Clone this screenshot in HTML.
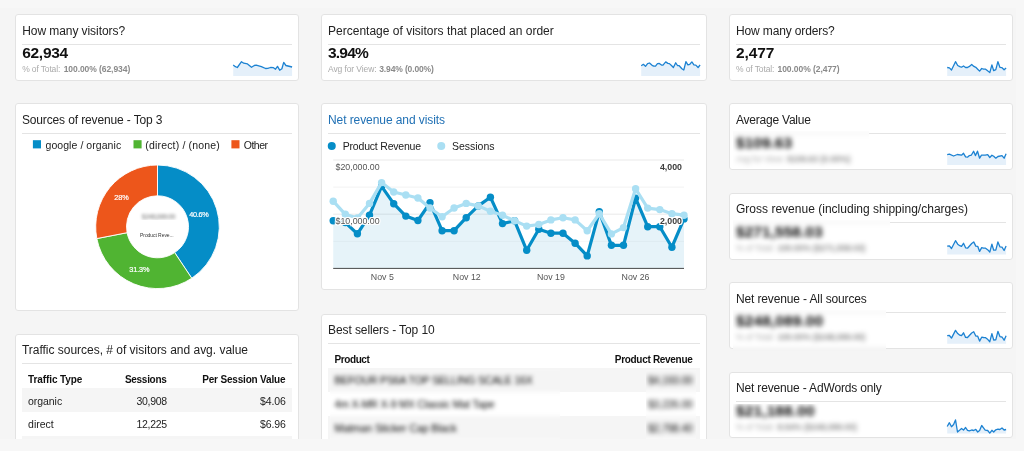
<!DOCTYPE html>
<html lang="en"><head><meta charset="utf-8"><title>Dashboard</title>
<style>
html,body{margin:0;padding:0}
body{width:1024px;height:451px;overflow:hidden;background:#f7f7f7;font-family:"Liberation Sans", Arial, sans-serif;position:relative}
#clip{will-change:transform;position:absolute;left:0;top:0;width:1024px;height:439px;overflow:hidden}
.card{position:absolute;background:#fff;border:1px solid #e3e3e3;border-radius:3px}
.hr{position:absolute;height:1px;background:#e4e4e4}
.band{position:absolute;background:#f5f5f5}
.t{position:absolute;white-space:nowrap;line-height:20px}
.sq{position:absolute;width:8px;height:8px}
svg{position:absolute;left:0;top:0}
.bclip{position:absolute;overflow:hidden}
.binner{position:absolute}
#panel{position:absolute;left:0;top:7.5px;width:1016px;height:431.5px;background:#f5f5f5}
</style></head><body><div id="panel"></div><div id="clip">
<div class="card" style="left:15px;top:14px;width:282px;height:65px"></div>
<div class="card" style="left:15px;top:103px;width:282px;height:206px"></div>
<div class="card" style="left:15px;top:334px;width:282px;height:138px"></div>
<div class="card" style="left:321px;top:14px;width:384px;height:65px"></div>
<div class="card" style="left:321px;top:103px;width:384px;height:185px"></div>
<div class="card" style="left:321px;top:314px;width:384px;height:158px"></div>
<div class="card" style="left:729px;top:14px;width:282px;height:65px"></div>
<div class="card" style="left:729px;top:103px;width:282px;height:65px"></div>
<div class="card" style="left:729px;top:193px;width:282px;height:65px"></div>
<div class="card" style="left:729px;top:282px;width:282px;height:65px"></div>
<div class="card" style="left:729px;top:372px;width:282px;height:64px"></div>
<div class="hr" style="left:22px;top:43.70px;width:270.4px"></div>
<div class="hr" style="left:328px;top:43.70px;width:372px"></div>
<div class="hr" style="left:736px;top:43.70px;width:270px"></div>
<div class="hr" style="left:22px;top:133.00px;width:270.4px"></div>
<div class="hr" style="left:328px;top:132.70px;width:372px"></div>
<div class="hr" style="left:736px;top:132.80px;width:270px"></div>
<div class="hr" style="left:736px;top:222.10px;width:270px"></div>
<div class="hr" style="left:736px;top:311.50px;width:270px"></div>
<div class="hr" style="left:736px;top:401.30px;width:270px"></div>
<div class="hr" style="left:22px;top:363.30px;width:270.4px"></div>
<div class="hr" style="left:328px;top:342.80px;width:372px"></div>
<div class="band" style="left:22px;top:388px;width:270px;height:24px"></div>
<div class="band" style="left:22px;top:436px;width:270px;height:24px"></div>
<div class="band" style="left:327.5px;top:368.3px;width:372.3px;height:23.7px"></div>
<div class="band" style="left:327.5px;top:416.3px;width:372.3px;height:23.7px"></div>
<svg width="1024" height="451" viewBox="0 0 1024 451">
<polygon points="233.2,75.9 233.2,64.9 235.4,66.7 237.3,67.5 241.5,61.7 243.7,63.2 247.5,63.9 251.5,67.3 254.3,65.5 256.2,65.1 261.4,66.6 265.6,68.5 267.8,68.3 270.5,67.5 273.5,67.7 275.5,69.2 277.5,66.4 279.7,70.2 281.9,68.8 283.7,62.4 285.9,65.5 292.1,67.0 292.1,75.9" fill="#e5f0fa"/>
<polyline points="233.2,64.9 235.4,66.7 237.3,67.5 241.5,61.7 243.7,63.2 247.5,63.9 251.5,67.3 254.3,65.5 256.2,65.1 261.4,66.6 265.6,68.5 267.8,68.3 270.5,67.5 273.5,67.7 275.5,69.2 277.5,66.4 279.7,70.2 281.9,68.8 283.7,62.4 285.9,65.5 292.1,67.0" fill="none" stroke="#1c82d2" stroke-width="1.3" stroke-linejoin="round"/>
<polygon points="641.2,75.9 641.2,65.8 643.4,64.3 645.5,66.4 647.6,63.6 649.5,63.0 652.1,65.3 653.8,66.1 655.5,66.2 657.5,63.6 659.3,63.4 661.5,65.1 663.0,65.1 665.7,61.9 667.9,63.4 669.4,63.6 671.7,65.8 673.4,67.5 675.7,62.8 677.5,65.5 679.2,65.7 681.9,68.7 683.8,70.0 685.9,61.7 687.9,64.9 689.8,64.3 691.9,61.9 693.9,64.9 695.8,65.1 698.1,67.5 700.1,64.9 700.1,75.9" fill="#e5f0fa"/>
<polyline points="641.2,65.8 643.4,64.3 645.5,66.4 647.6,63.6 649.5,63.0 652.1,65.3 653.8,66.1 655.5,66.2 657.5,63.6 659.3,63.4 661.5,65.1 663.0,65.1 665.7,61.9 667.9,63.4 669.4,63.6 671.7,65.8 673.4,67.5 675.7,62.8 677.5,65.5 679.2,65.7 681.9,68.7 683.8,70.0 685.9,61.7 687.9,64.9 689.8,64.3 691.9,61.9 693.9,64.9 695.8,65.1 698.1,67.5 700.1,64.9" fill="none" stroke="#1c82d2" stroke-width="1.3" stroke-linejoin="round"/>
<polygon points="947.2,75.9 947.2,67.5 949.4,67.9 951.5,70.0 955.5,61.7 957.7,65.5 959.8,66.6 961.5,67.2 963.5,66.0 965.6,67.5 967.5,67.5 969.4,66.4 971.7,64.5 973.9,66.4 975.8,67.3 977.7,69.2 979.6,71.1 981.7,68.5 983.5,69.2 985.6,69.2 987.9,71.1 989.8,72.6 991.9,64.9 993.7,70.7 995.8,69.6 997.9,61.7 999.9,67.3 1002.0,67.7 1004.1,69.8 1006.1,68.1 1006.1,75.9" fill="#e5f0fa"/>
<polyline points="947.2,67.5 949.4,67.9 951.5,70.0 955.5,61.7 957.7,65.5 959.8,66.6 961.5,67.2 963.5,66.0 965.6,67.5 967.5,67.5 969.4,66.4 971.7,64.5 973.9,66.4 975.8,67.3 977.7,69.2 979.6,71.1 981.7,68.5 983.5,69.2 985.6,69.2 987.9,71.1 989.8,72.6 991.9,64.9 993.7,70.7 995.8,69.6 997.9,61.7 999.9,67.3 1002.0,67.7 1004.1,69.8 1006.1,68.1" fill="none" stroke="#1c82d2" stroke-width="1.3" stroke-linejoin="round"/>
<polygon points="947.2,165.0 947.2,154.7 949.4,154.1 953.6,156.0 957.3,154.5 961.5,155.2 963.5,153.3 965.6,156.9 967.5,157.2 969.4,155.6 971.3,155.2 973.6,151.2 975.4,155.6 977.5,151.2 979.6,158.2 981.5,155.2 985.2,155.2 987.7,154.7 989.8,157.5 991.9,155.2 993.7,156.3 995.8,158.2 997.9,156.5 1002.0,155.7 1004.1,158.2 1006.1,153.7 1006.1,165.0" fill="#e5f0fa"/>
<polyline points="947.2,154.7 949.4,154.1 953.6,156.0 957.3,154.5 961.5,155.2 963.5,153.3 965.6,156.9 967.5,157.2 969.4,155.6 971.3,155.2 973.6,151.2 975.4,155.6 977.5,151.2 979.6,158.2 981.5,155.2 985.2,155.2 987.7,154.7 989.8,157.5 991.9,155.2 993.7,156.3 995.8,158.2 997.9,156.5 1002.0,155.7 1004.1,158.2 1006.1,153.7" fill="none" stroke="#1c82d2" stroke-width="1.3" stroke-linejoin="round"/>
<polygon points="947.2,254.5 947.2,246.2 949.4,245.9 951.5,248.5 955.5,240.7 957.7,244.2 959.8,245.7 961.5,246.3 963.5,243.3 965.6,247.8 967.5,248.2 971.7,243.5 973.7,241.9 975.8,246.1 977.7,246.3 979.6,251.4 981.7,247.6 983.5,248.2 985.6,248.2 987.9,249.9 989.8,252.1 991.9,244.2 993.7,250.2 995.8,250.2 997.9,241.9 999.9,246.8 1002.0,247.2 1004.1,250.5 1006.1,246.1 1006.1,254.5" fill="#e5f0fa"/>
<polyline points="947.2,246.2 949.4,245.9 951.5,248.5 955.5,240.7 957.7,244.2 959.8,245.7 961.5,246.3 963.5,243.3 965.6,247.8 967.5,248.2 971.7,243.5 973.7,241.9 975.8,246.1 977.7,246.3 979.6,251.4 981.7,247.6 983.5,248.2 985.6,248.2 987.9,249.9 989.8,252.1 991.9,244.2 993.7,250.2 995.8,250.2 997.9,241.9 999.9,246.8 1002.0,247.2 1004.1,250.5 1006.1,246.1" fill="none" stroke="#1c82d2" stroke-width="1.3" stroke-linejoin="round"/>
<polygon points="947.2,343.8 947.2,335.7 949.4,335.5 951.5,338.1 955.5,330.4 957.7,333.6 959.8,335.2 961.5,335.7 963.5,332.8 965.6,337.4 967.5,337.5 971.7,333.0 973.7,331.7 975.8,336.0 977.7,336.2 979.6,341.1 981.7,337.2 983.5,337.5 985.6,337.7 987.9,339.6 989.8,341.7 991.9,333.6 993.7,340.0 995.8,339.8 997.9,331.3 999.9,336.6 1002.0,337.0 1004.1,340.2 1006.1,335.8 1006.1,343.8" fill="#e5f0fa"/>
<polyline points="947.2,335.7 949.4,335.5 951.5,338.1 955.5,330.4 957.7,333.6 959.8,335.2 961.5,335.7 963.5,332.8 965.6,337.4 967.5,337.5 971.7,333.0 973.7,331.7 975.8,336.0 977.7,336.2 979.6,341.1 981.7,337.2 983.5,337.5 985.6,337.7 987.9,339.6 989.8,341.7 991.9,333.6 993.7,340.0 995.8,339.8 997.9,331.3 999.9,336.6 1002.0,337.0 1004.1,340.2 1006.1,335.8" fill="none" stroke="#1c82d2" stroke-width="1.3" stroke-linejoin="round"/>
<polygon points="947.2,433.5 947.2,426.5 949.4,422.7 951.5,426.7 953.6,424.5 955.5,419.9 957.5,432.0 959.8,430.1 961.5,428.5 963.5,430.1 965.6,427.5 967.5,430.3 969.4,430.9 971.7,430.0 973.7,430.5 975.8,429.4 977.7,432.0 979.6,430.5 981.7,425.5 983.5,427.9 985.2,430.1 987.7,430.5 989.8,433.1 991.9,430.3 993.7,432.0 995.8,429.8 997.9,429.2 999.9,429.5 1002.0,428.0 1004.1,430.0 1006.1,429.5 1006.1,433.5" fill="#e5f0fa"/>
<polyline points="947.2,426.5 949.4,422.7 951.5,426.7 953.6,424.5 955.5,419.9 957.5,432.0 959.8,430.1 961.5,428.5 963.5,430.1 965.6,427.5 967.5,430.3 969.4,430.9 971.7,430.0 973.7,430.5 975.8,429.4 977.7,432.0 979.6,430.5 981.7,425.5 983.5,427.9 985.2,430.1 987.7,430.5 989.8,433.1 991.9,430.3 993.7,432.0 995.8,429.8 997.9,429.2 999.9,429.5 1002.0,428.0 1004.1,430.0 1006.1,429.5" fill="none" stroke="#1c82d2" stroke-width="1.3" stroke-linejoin="round"/>
<path d="M157.50,165.00 A61.8,61.8 0 0 1 191.75,278.24 L174.68,252.60 A31,31 0 0 0 157.50,195.80 Z" fill="#058dc7" stroke="#fff" stroke-width="0.9"/>
<path d="M191.75,278.24 A61.8,61.8 0 0 1 96.83,238.57 L127.07,232.70 A31,31 0 0 0 174.68,252.60 Z" fill="#50b432" stroke="#fff" stroke-width="0.9"/>
<path d="M96.83,238.57 A61.8,61.8 0 0 1 157.50,165.00 L157.50,195.80 A31,31 0 0 0 127.07,232.70 Z" fill="#ed561b" stroke="#fff" stroke-width="0.9"/>
<line x1="333.2" x2="684.0" y1="160" y2="160" stroke="#e9e9e9" stroke-width="1"/>
<line x1="333.2" x2="684.0" y1="187.1" y2="187.1" stroke="#f2f2f2" stroke-width="1"/>
<line x1="333.2" x2="684.0" y1="214.2" y2="214.2" stroke="#e9e9e9" stroke-width="1"/>
<line x1="333.2" x2="684.0" y1="241.3" y2="241.3" stroke="#f7f7f7" stroke-width="1"/>
<polygon points="333.2,268.4 333.2,220.8 345.3,222.5 357.4,233.8 369.5,215.2 381.6,186.3 393.7,203.7 405.8,216.1 417.9,220.5 430.0,202.8 442.1,230.7 454.1,230.7 466.2,217.7 478.3,205.9 490.4,197.2 502.5,223.6 514.6,220.8 526.7,250.3 538.8,229.2 550.9,233.2 563.0,233.2 575.1,243.2 587.2,255.9 599.3,211.6 611.4,245.3 623.5,245.3 635.6,198.1 647.7,226.7 659.8,226.7 671.9,247.2 684.0,218.9 684.0,268.4" fill="#058dc7" fill-opacity="0.1"/>
<polyline points="333.2,220.8 345.3,222.5 357.4,233.8 369.5,215.2 381.6,186.3 393.7,203.7 405.8,216.1 417.9,220.5 430.0,202.8 442.1,230.7 454.1,230.7 466.2,217.7 478.3,205.9 490.4,197.2 502.5,223.6 514.6,220.8 526.7,250.3 538.8,229.2 550.9,233.2 563.0,233.2 575.1,243.2 587.2,255.9 599.3,211.6 611.4,245.3 623.5,245.3 635.6,198.1 647.7,226.7 659.8,226.7 671.9,247.2 684.0,218.9" fill="none" stroke="#058dc7" stroke-width="3.2" stroke-linejoin="round"/>
<circle cx="333.2" cy="220.8" r="3.7" fill="#058dc7"/>
<circle cx="345.3" cy="222.5" r="3.7" fill="#058dc7"/>
<circle cx="357.4" cy="233.8" r="3.7" fill="#058dc7"/>
<circle cx="369.5" cy="215.2" r="3.7" fill="#058dc7"/>
<circle cx="381.6" cy="186.3" r="3.7" fill="#058dc7"/>
<circle cx="393.7" cy="203.7" r="3.7" fill="#058dc7"/>
<circle cx="405.8" cy="216.1" r="3.7" fill="#058dc7"/>
<circle cx="417.9" cy="220.5" r="3.7" fill="#058dc7"/>
<circle cx="430.0" cy="202.8" r="3.7" fill="#058dc7"/>
<circle cx="442.1" cy="230.7" r="3.7" fill="#058dc7"/>
<circle cx="454.1" cy="230.7" r="3.7" fill="#058dc7"/>
<circle cx="466.2" cy="217.7" r="3.7" fill="#058dc7"/>
<circle cx="478.3" cy="205.9" r="3.7" fill="#058dc7"/>
<circle cx="490.4" cy="197.2" r="3.7" fill="#058dc7"/>
<circle cx="502.5" cy="223.6" r="3.7" fill="#058dc7"/>
<circle cx="514.6" cy="220.8" r="3.7" fill="#058dc7"/>
<circle cx="526.7" cy="250.3" r="3.7" fill="#058dc7"/>
<circle cx="538.8" cy="229.2" r="3.7" fill="#058dc7"/>
<circle cx="550.9" cy="233.2" r="3.7" fill="#058dc7"/>
<circle cx="563.0" cy="233.2" r="3.7" fill="#058dc7"/>
<circle cx="575.1" cy="243.2" r="3.7" fill="#058dc7"/>
<circle cx="587.2" cy="255.9" r="3.7" fill="#058dc7"/>
<circle cx="599.3" cy="211.6" r="3.7" fill="#058dc7"/>
<circle cx="611.4" cy="245.3" r="3.7" fill="#058dc7"/>
<circle cx="623.5" cy="245.3" r="3.7" fill="#058dc7"/>
<circle cx="635.6" cy="198.1" r="3.7" fill="#058dc7"/>
<circle cx="647.7" cy="226.7" r="3.7" fill="#058dc7"/>
<circle cx="659.8" cy="226.7" r="3.7" fill="#058dc7"/>
<circle cx="671.9" cy="247.2" r="3.7" fill="#058dc7"/>
<circle cx="684.0" cy="218.9" r="3.7" fill="#058dc7"/>
<polyline points="333.2,201.2 345.3,214.3 357.4,218.0 369.5,203.4 381.6,182.6 393.7,192.0 405.8,195.0 417.9,198.0 430.0,208.0 442.1,216.8 454.1,208.0 466.2,203.4 478.3,205.9 490.4,211.2 502.5,215.2 514.6,220.8 526.7,226.1 538.8,224.5 550.9,219.9 563.0,217.7 575.1,219.9 587.2,230.7 599.3,213.7 611.4,233.9 623.5,227.6 635.6,188.8 647.7,208.1 659.8,209.6 671.9,213.7 684.0,215.2" fill="none" stroke="#aadff3" stroke-width="3.2" stroke-linejoin="round"/>
<circle cx="333.2" cy="201.2" r="3.7" fill="#aadff3"/>
<circle cx="345.3" cy="214.3" r="3.7" fill="#aadff3"/>
<circle cx="357.4" cy="218.0" r="3.7" fill="#aadff3"/>
<circle cx="369.5" cy="203.4" r="3.7" fill="#aadff3"/>
<circle cx="381.6" cy="182.6" r="3.7" fill="#aadff3"/>
<circle cx="393.7" cy="192.0" r="3.7" fill="#aadff3"/>
<circle cx="405.8" cy="195.0" r="3.7" fill="#aadff3"/>
<circle cx="417.9" cy="198.0" r="3.7" fill="#aadff3"/>
<circle cx="430.0" cy="208.0" r="3.7" fill="#aadff3"/>
<circle cx="442.1" cy="216.8" r="3.7" fill="#aadff3"/>
<circle cx="454.1" cy="208.0" r="3.7" fill="#aadff3"/>
<circle cx="466.2" cy="203.4" r="3.7" fill="#aadff3"/>
<circle cx="478.3" cy="205.9" r="3.7" fill="#aadff3"/>
<circle cx="490.4" cy="211.2" r="3.7" fill="#aadff3"/>
<circle cx="502.5" cy="215.2" r="3.7" fill="#aadff3"/>
<circle cx="514.6" cy="220.8" r="3.7" fill="#aadff3"/>
<circle cx="526.7" cy="226.1" r="3.7" fill="#aadff3"/>
<circle cx="538.8" cy="224.5" r="3.7" fill="#aadff3"/>
<circle cx="550.9" cy="219.9" r="3.7" fill="#aadff3"/>
<circle cx="563.0" cy="217.7" r="3.7" fill="#aadff3"/>
<circle cx="575.1" cy="219.9" r="3.7" fill="#aadff3"/>
<circle cx="587.2" cy="230.7" r="3.7" fill="#aadff3"/>
<circle cx="599.3" cy="213.7" r="3.7" fill="#aadff3"/>
<circle cx="611.4" cy="233.9" r="3.7" fill="#aadff3"/>
<circle cx="623.5" cy="227.6" r="3.7" fill="#aadff3"/>
<circle cx="635.6" cy="188.8" r="3.7" fill="#aadff3"/>
<circle cx="647.7" cy="208.1" r="3.7" fill="#aadff3"/>
<circle cx="659.8" cy="209.6" r="3.7" fill="#aadff3"/>
<circle cx="671.9" cy="213.7" r="3.7" fill="#aadff3"/>
<circle cx="684.0" cy="215.2" r="3.7" fill="#aadff3"/>
<line x1="333.2" x2="684.0" y1="268.4" y2="268.4" stroke="#333" stroke-width="0.9"/>
<circle cx="331.75" cy="146" r="4" fill="#058dc7"/><circle cx="441.25" cy="146" r="4" fill="#aadff3"/>
<rect x="32.9" y="140.2" width="8.1" height="8.2" fill="#058dc7"/>
<rect x="133.5" y="140.2" width="8.1" height="8.2" fill="#50b432"/>
<rect x="231.4" y="140.2" width="8.1" height="8.2" fill="#ed561b"/>
</svg>
<span class="t" style="left:22.20px;top:20.54px;font-size:12px;letter-spacing:-0.068px;color:#222;">How many visitors?</span>
<span class="t" style="left:22.20px;top:43.33px;font-size:15.5px;letter-spacing:-0.278px;color:#111;font-weight:700;">62,934</span>
<span class="t" style="left:22.20px;top:59.35px;font-size:8.5px;letter-spacing:-0.142px;color:#aaa;">% of Total:</span>
<span class="t" style="left:63.70px;top:59.35px;font-size:8.5px;letter-spacing:-0.070px;color:#8a8a8a;font-weight:700;">100.00% (62,934)</span>
<span class="t" style="left:328.00px;top:20.54px;font-size:12px;letter-spacing:0.007px;color:#222;">Percentage of visitors that placed an order</span>
<span class="t" style="left:328.00px;top:43.33px;font-size:15.5px;letter-spacing:-0.792px;color:#111;font-weight:700;">3.94%</span>
<span class="t" style="left:328.00px;top:59.35px;font-size:8.5px;letter-spacing:-0.096px;color:#aaa;">Avg for View:</span>
<span class="t" style="left:379.25px;top:59.35px;font-size:8.5px;letter-spacing:-0.137px;color:#8a8a8a;font-weight:700;">3.94% (0.00%)</span>
<span class="t" style="left:736.00px;top:20.54px;font-size:12px;letter-spacing:-0.135px;color:#222;">How many orders?</span>
<span class="t" style="left:736.00px;top:43.33px;font-size:15.5px;letter-spacing:-0.104px;color:#111;font-weight:700;">2,477</span>
<span class="t" style="left:736.00px;top:59.35px;font-size:8.5px;letter-spacing:-0.107px;color:#aaa;">% of Total:</span>
<span class="t" style="left:777.50px;top:59.35px;font-size:8.5px;letter-spacing:-0.055px;color:#8a8a8a;font-weight:700;">100.00% (2,477)</span>
<span class="t" style="left:736.00px;top:109.74px;font-size:12px;letter-spacing:-0.224px;color:#222;">Average Value</span>
<span class="t" style="left:736.00px;top:199.24px;font-size:12px;letter-spacing:0.013px;color:#222;">Gross revenue (including shipping/charges)</span>
<span class="t" style="left:736.00px;top:288.64px;font-size:12px;letter-spacing:-0.134px;color:#222;">Net revenue - All sources</span>
<span class="t" style="left:736.00px;top:378.34px;font-size:12px;letter-spacing:-0.161px;color:#222;">Net revenue - AdWords only</span>
<span class="t" style="left:21.90px;top:109.74px;font-size:12px;letter-spacing:-0.132px;color:#222;">Sources of revenue - Top 3</span>
<span class="t" style="left:45.50px;top:134.66px;font-size:10.5px;letter-spacing:0.062px;color:#222;">google / organic</span>
<span class="t" style="left:145.30px;top:134.66px;font-size:10.5px;letter-spacing:0.170px;color:#222;">(direct) / (none)</span>
<span class="t" style="left:243.80px;top:134.66px;font-size:10.5px;letter-spacing:-0.516px;color:#222;">Other</span>
<span class="t" style="left:189.30px;top:204.67px;font-size:7.3px;letter-spacing:-0.300px;color:#fff;-webkit-text-stroke:0.2px #fff;">40.6%</span>
<span class="t" style="left:114.30px;top:187.77px;font-size:7.3px;letter-spacing:-0.058px;color:#fff;-webkit-text-stroke:0.2px #fff;">28%</span>
<span class="t" style="left:129.30px;top:260.47px;font-size:7.3px;letter-spacing:-0.125px;color:#fff;-webkit-text-stroke:0.2px #fff;">31.3%</span>
<span class="t" style="left:140.00px;top:225.47px;font-size:5px;letter-spacing:-0.062px;color:#333;">Product Reve...</span>
<span class="t" style="left:328.00px;top:109.74px;font-size:12px;letter-spacing:-0.082px;color:#2171b5;">Net revenue and visits</span>
<span class="t" style="left:342.75px;top:136.16px;font-size:10.5px;letter-spacing:-0.200px;color:#222;">Product Revenue</span>
<span class="t" style="left:452.00px;top:136.16px;font-size:10.5px;letter-spacing:-0.015px;color:#222;">Sessions</span>
<span class="t" style="left:335.60px;top:157.15px;font-size:8.8px;letter-spacing:-0.004px;color:#555;text-shadow:-1px 0 #fff,1px 0 #fff,0 -1px #fff,0 1px #fff,-1px -1px #fff,1px 1px #fff,-1px 1px #fff,1px -1px #fff;">$20,000.00</span>
<span class="t" style="left:335.60px;top:211.35px;font-size:8.8px;letter-spacing:-0.004px;color:#555;text-shadow:-1px 0 #fff,1px 0 #fff,0 -1px #fff,0 1px #fff,-1px -1px #fff,1px 1px #fff,-1px 1px #fff,1px -1px #fff;">$10,000.00</span>
<span class="t" style="left:660.00px;top:157.35px;font-size:8.8px;letter-spacing:-0.030px;color:#3d3d3d;font-weight:700;text-shadow:-1px 0 #fff,1px 0 #fff,0 -1px #fff,0 1px #fff,-1px -1px #fff,1px 1px #fff,-1px 1px #fff,1px -1px #fff;">4,000</span>
<span class="t" style="left:660.00px;top:210.85px;font-size:8.8px;letter-spacing:-0.030px;color:#3d3d3d;font-weight:700;text-shadow:-1px 0 #fff,1px 0 #fff,0 -1px #fff,0 1px #fff,-1px -1px #fff,1px 1px #fff,-1px 1px #fff,1px -1px #fff;">2,000</span>
<span class="t" style="left:370.80px;top:266.95px;font-size:8.8px;letter-spacing:0.028px;color:#555;">Nov 5</span>
<span class="t" style="left:452.80px;top:266.95px;font-size:8.8px;letter-spacing:0.004px;color:#555;">Nov 12</span>
<span class="t" style="left:537.00px;top:266.95px;font-size:8.8px;letter-spacing:0.004px;color:#555;">Nov 19</span>
<span class="t" style="left:621.60px;top:266.95px;font-size:8.8px;letter-spacing:0.004px;color:#555;">Nov 26</span>
<span class="t" style="left:21.90px;top:340.44px;font-size:12px;letter-spacing:-0.014px;color:#222;">Traffic sources, # of visitors and avg. value</span>
<span class="t" style="left:28.10px;top:370.04px;font-size:10px;letter-spacing:-0.102px;color:#111;font-weight:700;">Traffic Type</span>
<span class="t" style="left:125.00px;top:370.04px;font-size:10px;letter-spacing:-0.307px;color:#111;font-weight:700;">Sessions</span>
<span class="t" style="left:202.20px;top:370.04px;font-size:10px;letter-spacing:-0.175px;color:#111;font-weight:700;">Per Session Value</span>
<span class="t" style="left:28.10px;top:391.36px;font-size:10.5px;letter-spacing:-0.065px;color:#222;">organic</span>
<span class="t" style="left:136.60px;top:391.36px;font-size:10.5px;letter-spacing:-0.335px;color:#222;">30,908</span>
<span class="t" style="left:260.00px;top:391.36px;font-size:10.5px;letter-spacing:-0.109px;color:#222;">$4.06</span>
<span class="t" style="left:28.10px;top:414.16px;font-size:10.5px;letter-spacing:-0.022px;color:#222;">direct</span>
<span class="t" style="left:136.60px;top:414.16px;font-size:10.5px;letter-spacing:-0.335px;color:#222;">12,225</span>
<span class="t" style="left:260.00px;top:414.16px;font-size:10.5px;letter-spacing:-0.109px;color:#222;">$6.96</span>
<span class="t" style="left:28.10px;top:437.86px;font-size:10.5px;letter-spacing:-0.191px;color:#222;">(none)</span>
<span class="t" style="left:328.00px;top:320.14px;font-size:12px;letter-spacing:-0.092px;color:#222;">Best sellers - Top 10</span>
<span class="t" style="left:334.50px;top:349.54px;font-size:10px;letter-spacing:-0.408px;color:#111;font-weight:700;">Product</span>
<span class="t" style="left:614.80px;top:349.54px;font-size:10px;letter-spacing:-0.306px;color:#111;font-weight:700;">Product Revenue</span>
<div class="bclip" style="left:732.5px;top:131px;width:136.00px;height:37.00px">
<div class="binner" style="left:-16px;top:-16px;width:168.00px;height:69.00px;background:#fff;filter:blur(2.7px)">
<div style="position:absolute;left:11.50px;top:17.80px;width:278.00px;height:1.00px;background:#e4e4e4"></div>
<span class="t" style="left:19.50px;top:17.53px;font-size:15.5px;letter-spacing:0.015px;color:#000;font-weight:700;">$109.63</span>
<span class="t" style="left:19.50px;top:33.55px;font-size:8.5px;letter-spacing:-0.100px;color:#aaa;">Avg for View:</span>
<span class="t" style="left:70.70px;top:33.55px;font-size:8.5px;letter-spacing:0.020px;color:#8a8a8a;font-weight:700;">$109.63 (0.00%)</span>
</div></div>
<div class="bclip" style="left:732.5px;top:220px;width:157.50px;height:37.00px">
<div class="binner" style="left:-16px;top:-16px;width:189.50px;height:69.00px;background:#fff;filter:blur(2.7px)">
<div style="position:absolute;left:11.50px;top:18.10px;width:278.00px;height:1.00px;background:#e4e4e4"></div>
<span class="t" style="left:19.50px;top:18.03px;font-size:15.5px;letter-spacing:0.042px;color:#000;font-weight:700;">$271,558.03</span>
<span class="t" style="left:19.50px;top:34.05px;font-size:8.5px;letter-spacing:-0.107px;color:#aaa;">% of Total:</span>
<span class="t" style="left:61.00px;top:34.05px;font-size:8.5px;letter-spacing:-0.051px;color:#8a8a8a;font-weight:700;">100.00% ($271,558.03)</span>
</div></div>
<div class="bclip" style="left:732.5px;top:310px;width:153.50px;height:41.00px">
<div class="binner" style="left:-16px;top:-16px;width:185.50px;height:73.00px;background:#fff;filter:blur(2.7px)">
<div style="position:absolute;left:11.50px;top:17.50px;width:278.00px;height:1.00px;background:#e4e4e4"></div>
<div style="position:absolute;left:-16.50px;top:54.90px;width:306.00px;height:31.10px;background:#f5f5f5"></div>
<div style="position:absolute;left:-16.50px;top:53.90px;width:306.00px;height:1.00px;background:#e1e1e1"></div>
<span class="t" style="left:19.50px;top:17.43px;font-size:15.5px;letter-spacing:0.092px;color:#000;font-weight:700;">$248,089.00</span>
<span class="t" style="left:19.50px;top:33.45px;font-size:8.5px;letter-spacing:-0.107px;color:#aaa;">% of Total:</span>
<span class="t" style="left:61.00px;top:33.45px;font-size:8.5px;letter-spacing:-0.051px;color:#8a8a8a;font-weight:700;">100.00% ($248,089.00)</span>
</div></div>
<div class="bclip" style="left:732.5px;top:403.5px;width:147.50px;height:32.50px">
<div class="binner" style="left:-16px;top:-16px;width:179.50px;height:64.50px;background:#fff;filter:blur(2.7px)">
<span class="t" style="left:19.50px;top:13.63px;font-size:15.5px;letter-spacing:0.116px;color:#000;font-weight:700;">$21,188.00</span>
<span class="t" style="left:19.50px;top:29.65px;font-size:8.5px;letter-spacing:-0.107px;color:#aaa;">% of Total:</span>
<span class="t" style="left:61.00px;top:29.65px;font-size:8.5px;letter-spacing:-0.003px;color:#8a8a8a;font-weight:700;">8.54% ($248,089.00)</span>
</div></div>
<div class="bclip" style="left:139px;top:209px;width:39.00px;height:11.30px">
<div class="binner" style="left:-16px;top:-16px;width:71.00px;height:43.30px;background:#fff;filter:blur(1.7px)">
<span class="t" style="left:18.50px;top:13.80px;font-size:7.5px;letter-spacing:-0.754px;color:#a8a8a8;font-weight:700;">$248,089.00</span>
</div></div>
<div class="bclip" style="left:330px;top:369.5px;width:230.00px;height:70.50px">
<div class="binner" style="left:-16px;top:-16px;width:262.00px;height:102.50px;background:#fff;filter:blur(2.2px)">
<div style="position:absolute;left:13.50px;top:14.80px;width:372.30px;height:23.70px;background:#f5f5f5"></div>
<div style="position:absolute;left:13.50px;top:62.80px;width:372.30px;height:23.70px;background:#f5f5f5"></div>
<span class="t" style="left:20.50px;top:16.86px;font-size:10.5px;letter-spacing:-0.150px;color:#000;">BEFOUR PS6A TOP SELLING SCALE 16X</span>
<span class="t" style="left:20.50px;top:40.86px;font-size:10.5px;letter-spacing:-0.159px;color:#000;">4m X-MR X-9 MX Classic Mat Tape</span>
<span class="t" style="left:20.50px;top:64.36px;font-size:10.5px;letter-spacing:-0.063px;color:#000;">Matman Sticker Cap Black</span>
</div></div>
<div class="bclip" style="left:646.4px;top:369.5px;width:49.60px;height:70.50px">
<div class="binner" style="left:-16px;top:-16px;width:81.60px;height:102.50px;background:#fff;filter:blur(2.6px)">
<div style="position:absolute;left:-302.90px;top:14.80px;width:372.30px;height:23.70px;background:#f5f5f5"></div>
<div style="position:absolute;left:-302.90px;top:62.80px;width:372.30px;height:23.70px;background:#f5f5f5"></div>
<span class="t" style="left:17.60px;top:16.86px;font-size:10.5px;letter-spacing:-0.234px;color:#000;">$4,193.00</span>
<span class="t" style="left:17.60px;top:40.86px;font-size:10.5px;letter-spacing:-0.234px;color:#000;">$3,226.00</span>
<span class="t" style="left:17.60px;top:64.36px;font-size:10.5px;letter-spacing:-0.234px;color:#000;">$2,798.40</span>
</div></div>
</div></body></html>
